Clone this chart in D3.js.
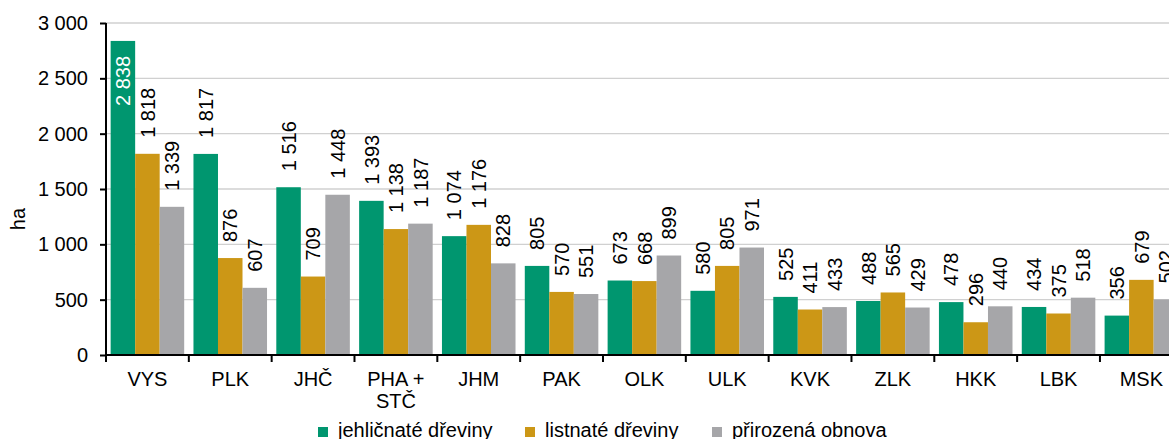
<!DOCTYPE html>
<html><head><meta charset="utf-8">
<script src="https://cdn.jsdelivr.net/npm/d3@7/dist/d3.min.js"></script>
<style>body{margin:0;background:#fff}svg{display:block;font-family:"Liberation Sans",Arial,sans-serif}</style>
</head><body><svg id="c" width="1169" height="439"></svg>
<script>
const categories = ["VYS","PLK","JHČ","PHA + STČ","JHM","PAK","OLK","ULK","KVK","ZLK","HKK","LBK","MSK"];
const seriesNames = ["jehličnaté dřeviny","listnaté dřeviny","přirozená obnova"];
const jehlicnate = [2838,1817,1516,1393,1074,805,673,580,525,488,478,434,356];
const listnate   = [1818,876,709,1138,1176,570,668,805,411,565,296,375,679];
const prirozena  = [1339,607,1448,1187,828,551,899,971,433,429,440,518,502];
const yTicks = [0,500,1000,1500,2000,2500,3000];

(function(){
const colors = ["#00966F","#CC9716","#A6A6A9"];
const series = [jehlicnate, listnate, prirozena];

const svg = d3.select("#c");
const mLeft = 106, mTop = 23, mBottom = 355, bandW = 82.83;
const mRight = mLeft + bandW*categories.length;
const fs = 20;

const x = d3.scaleBand().domain(categories).range([mLeft, mRight]).padding(0);
const y = d3.scaleLinear().domain([0,3000]).range([mBottom, mTop]);
const inner = d3.scaleBand().domain([0,1,2]).range([x.bandwidth()*0.056, x.bandwidth()*0.944]).padding(0);
const fmt = v => d3.format(",")(v).replace(/,/g, "\u00a0");

svg.append("g").selectAll("line").data(yTicks.filter(d=>d>0)).join("line")
  .attr("x1", mLeft).attr("x2", 1169).attr("y1", d=>y(d)).attr("y2", d=>y(d))
  .attr("stroke", "#D0D0D0").attr("stroke-width", 1.3);

const g = svg.append("g");
series.forEach((vals, si) => {
  g.append("g").selectAll("rect").data(vals).join("rect")
    .attr("x", (d,i)=>x(categories[i]) + inner(si))
    .attr("width", inner.bandwidth())
    .attr("y", d=>y(d)).attr("height", d=>mBottom - y(d))
    .attr("fill", colors[si]);
});

series.forEach((vals, si) => {
  vals.forEach((v,i) => {
    const cx = x(categories[i]) + inner(si) + inner.bandwidth()/2;
    const insideLabel = (si === 0 && i === 0);
    const ty = insideLabel ? y(v) + 15 : y(v) - 16;
    svg.append("text")
      .attr("transform", `translate(${cx},${ty}) rotate(-90)`)
      .attr("text-anchor", insideLabel ? "end" : "start")
      .attr("dy", "0.36em")
      .attr("font-size", fs)
      .attr("fill", insideLabel ? "#fff" : "#000")
      .text(fmt(v));
  });
});

const yAxis = d3.axisLeft(y).tickValues(yTicks).tickSize(6).tickPadding(12).tickFormat(fmt);
const ya = svg.append("g").attr("transform", `translate(${mLeft},0)`).call(yAxis);
ya.select(".domain").attr("stroke","#000").attr("stroke-width",2).attr("d", `M0,${mTop}V${mBottom}`);
ya.selectAll(".tick line").attr("stroke","#000").attr("stroke-width",2);
ya.selectAll(".tick text").attr("font-size", fs).attr("font-family","Liberation Sans, Arial, sans-serif").attr("fill","#000");

svg.append("line").attr("x1", mLeft).attr("x2", 1169).attr("y1", mBottom).attr("y2", mBottom)
  .attr("stroke","#000").attr("stroke-width",2);
svg.append("g").selectAll("line").data(categories).join("line")
  .attr("x1", d=>x(d)).attr("x2", d=>x(d)).attr("y1", mBottom).attr("y2", mBottom+7)
  .attr("stroke","#000").attr("stroke-width",2);
const xl = svg.append("g").selectAll("text").data(categories).join("text")
  .attr("x", d=>x(d)+x.bandwidth()/2).attr("y", 386)
  .attr("text-anchor","middle").attr("font-size", fs);
xl.each(function(d){
  const parts = d === "PHA + STČ" ? ["PHA +","STČ"] : [d];
  const t = d3.select(this);
  parts.forEach((p,k)=>t.append("tspan").attr("x", x(d)+x.bandwidth()/2).attr("dy", k===0?0:"1.1em").text(p));
});

svg.append("text").attr("transform","translate(18,219) rotate(-90)")
  .attr("text-anchor","middle").attr("dy","0.36em").attr("font-size", fs).text("ha");

const legendX = [318, 525, 712];
seriesNames.forEach((n,i)=>{
  svg.append("rect").attr("x", legendX[i]).attr("y", 427).attr("width",10).attr("height",10).attr("fill", colors[i]);
  svg.append("text").attr("x", legendX[i]+20).attr("y", 437).attr("font-size", fs).text(n);
});
})();
</script></body></html>
